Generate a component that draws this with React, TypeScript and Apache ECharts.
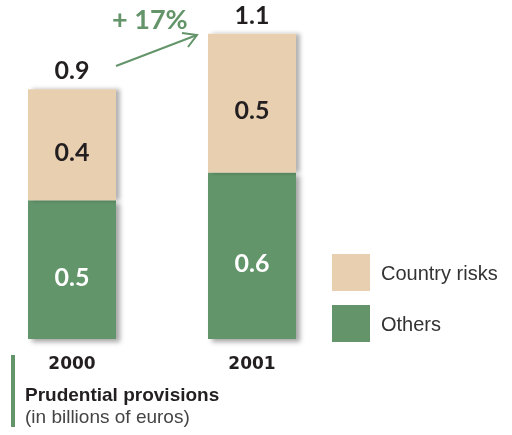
import React, { useEffect, useRef } from "react";
import * as echarts from "echarts";

const years = ["2000", "2001"];
const others = [0.5, 0.6];
const countryRisks = [0.4, 0.5];
const totals = [0.9, 1.1];
const legendNames = ["Country risks", "Others"];
const growthLabel = "+ 17%";
const titleText = "Prudential provisions";
const subtitleText = "(in billions of euros)";

const BEIGE = "#e8cfb0";
const GREEN = "#64956a";
const DARK = "#231f20";
const NUM_FONT = "Lato, 'Open Sans', sans-serif";
const TXT_FONT = "'Liberation Sans', Arial, sans-serif";

export default function App() {
  const ref = useRef<HTMLDivElement>(null);
  useEffect(() => {
    if (!ref.current) return;
    const chart = echarts.init(ref.current, undefined, { renderer: "svg" });
    const barLabel = (color: string) => ({
      show: true,
      position: "inside",
      offset: [0, 6],
      color,
      fontFamily: NUM_FONT,
      fontWeight: "bold",
      fontSize: 25,
      formatter: (p: any) => String(p.value),
    });
    chart.setOption({
      animation: false,
      grid: {
        left: -18,
        width: 360,
        top: 6,
        height: 333,
        outerBoundsMode: "none",
        containLabel: false,
      },
      legend: {
        data: legendNames,
        orient: "vertical",
        left: 332,
        top: 254,
        padding: 0,
        itemWidth: 38,
        itemHeight: 37,
        itemGap: 14,
        icon: "rect",
        selectedMode: false,
        textStyle: {
          fontFamily: TXT_FONT,
          fontSize: 20,
          color: "#333333",
          padding: [0, 0, 0, 6],
        },
      },
      xAxis: {
        type: "category",
        data: years,
        axisLine: { show: false },
        axisTick: { show: false },
        axisLabel: {
          margin: 15,
          color: DARK,
          fontFamily: "'DejaVu Sans', sans-serif",
          fontWeight: "bold",
          fontSize: 17,
        },
      },
      yAxis: {
        type: "value",
        min: 0,
        max: 1.2,
        show: false,
        splitLine: { show: false },
      },
      series: [
        {
          name: "Others",
          type: "bar",
          stack: "total",
          data: others,
          barWidth: 88,
          itemStyle: {
            color: GREEN,
            shadowColor: "rgba(0,0,0,0.35)",
            shadowBlur: 5,
            shadowOffsetX: 4,
            shadowOffsetY: 3,
          },
          label: barLabel("#ffffff"),
        },
        {
          name: "Country risks",
          type: "bar",
          stack: "total",
          data: countryRisks,
          barWidth: 88,
          itemStyle: {
            color: BEIGE,
            shadowColor: "rgba(0,0,0,0.3)",
            shadowBlur: 4,
            shadowOffsetX: 4,
            shadowOffsetY: 0,
          },
          label: barLabel(DARK),
        },
        {
          name: "Total",
          type: "scatter",
          data: totals,
          symbolSize: 1,
          itemStyle: { color: "rgba(0,0,0,0)", opacity: 1 },
          emphasis: { disabled: true },
          label: {
            show: true,
            position: "top",
            distance: 7,
            opacity: 1,
            color: DARK,
            fontFamily: NUM_FONT,
            fontWeight: "bold",
            fontSize: 25,
            formatter: (p: any) => String(p.value),
          },
        },
      ],
      graphic: [
        {
          type: "text",
          left: 112,
          top: 5,
          style: {
            text: growthLabel,
            fill: GREEN,
            font: `bold 27px ${NUM_FONT}`,
          },
        },
        {
          type: "line",
          shape: { x1: 116, y1: 66, x2: 197, y2: 35 },
          style: { stroke: GREEN, lineWidth: 2 },
        },
        {
          type: "polyline",
          shape: { points: [[182, 33], [197, 35], [188, 47]] },
          style: { stroke: GREEN, lineWidth: 2, fill: "none" },
        },
        {
          type: "rect",
          shape: { x: 11, y: 355, width: 4, height: 72 },
          style: { fill: GREEN },
        },
        {
          type: "text",
          left: 25,
          top: 385,
          style: {
            text: titleText,
            fill: DARK,
            font: `bold 19px ${TXT_FONT}`,
          },
        },
        {
          type: "text",
          left: 25,
          top: 407,
          style: {
            text: subtitleText,
            fill: "#444444",
            font: `19px ${TXT_FONT}`,
          },
        },
      ],
    });
    return () => chart.dispose();
  }, []);
  return (
    <div
      ref={ref}
      style={{ position: "fixed", left: 0, top: 0, width: 512, height: 435 }}
    />
  );
}
